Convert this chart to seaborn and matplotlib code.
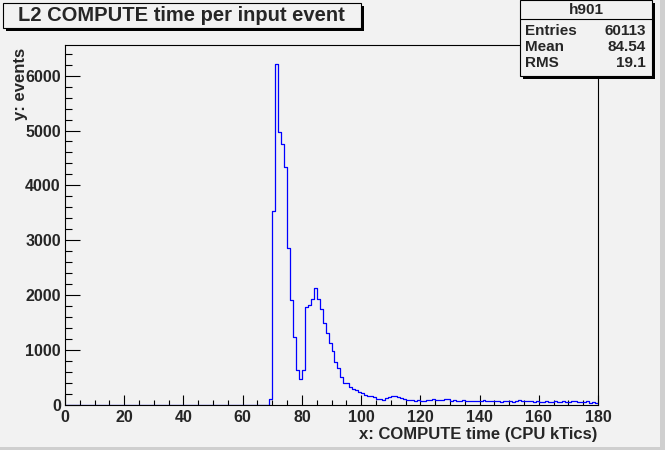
import numpy as np
import pandas as pd
import matplotlib
matplotlib.use('Agg')
import matplotlib.pyplot as plt
from matplotlib.patches import Rectangle
from matplotlib.ticker import MultipleLocator
import seaborn as sns

sns.set_style('ticks')
plt.rcParams['font.family'] = ['Liberation Sans', 'DejaVu Sans']
plt.rcParams['font.weight'] = 'bold'

# histogram: 1 kTic bins from 0 to 180, empty below 69
n_bins = 180
x_range = (0, 180)
first_bin = 69
counts_peak = [110, 3530, 6220, 4970, 4745, 4330, 2865, 1903, 1228, 640,
               474, 640, 1788, 1825, 1920, 2135, 1934, 1752, 1490, 1314,
               1131, 978, 785, 675, 498, 401, 401, 328, 292, 268,
               231, 213, 182, 164, 152, 146]
counts_tail = [110, 110, 91, 128, 146, 158, 164, 134, 128, 110,
               91, 79, 79, 67, 79, 73, 67, 91, 79, 97,
               79, 91, 85, 110, 97, 67, 79, 73, 73, 85,
               61, 61, 61, 67, 61, 73, 79, 73, 61, 61,
               61, 61, 55, 61, 61, 61, 55, 61, 79, 73,
               61, 61, 61, 49, 61, 49, 55, 61, 55, 49,
               61, 49, 49, 67, 49, 49, 61, 61, 49, 49,
               49, 61, 37, 49, 30]

hist_name = 'h901'
stats_labels = ['Entries', 'Mean', 'RMS']
stats_values = ['60113', '84.54', '19.1']
title = 'L2 COMPUTE time per input event'

counts = np.zeros(n_bins)
counts[first_bin:first_bin + len(counts_peak)] = counts_peak
counts[first_bin + len(counts_peak):] = counts_tail
df = pd.DataFrame({'time': np.arange(n_bins) + 0.5, 'events': counts})

W, H = 665, 450
bg = '#f2f2f2'
fig = plt.figure(figsize=(W / 100, H / 100), dpi=100, facecolor=bg)

# canvas bevel on right and bottom
fig.patches.append(Rectangle((660 / W, 0), 5 / W, 1, transform=fig.transFigure,
                             facecolor='#cfcfcf', edgecolor='none'))
fig.patches.append(Rectangle((0, 0), 1, 3 / H, transform=fig.transFigure,
                             facecolor='#cfcfcf', edgecolor='none'))

ax = fig.add_axes([65 / W, 1 - 404.6 / H, 533 / W, 359.6 / H])
ax.set_facecolor(bg)

sns.histplot(data=df, x='time', weights='events', bins=n_bins, binrange=x_range,
             element='step', fill=False, color='#0000ff', linewidth=0.9, ax=ax)

ax.set_xlim(*x_range)
ax.set_ylim(0, 6560)
ax.xaxis.set_major_locator(MultipleLocator(20))
ax.xaxis.set_minor_locator(MultipleLocator(5))
ax.yaxis.set_major_locator(MultipleLocator(1000))
ax.yaxis.set_minor_locator(MultipleLocator(200))
ax.tick_params(which='both', direction='in', top=False, right=False,
               labelsize=11.5, width=0.8, color='black')
ax.tick_params(axis='x', which='major', length=7.5, pad=4)
ax.tick_params(axis='x', which='minor', length=3.8)
ax.tick_params(axis='y', which='major', length=10.5, pad=3)
ax.tick_params(axis='y', which='minor', length=5.3)
for lab in ax.get_xticklabels() + ax.get_yticklabels():
    lab.set_fontweight('bold')
for s in ax.spines.values():
    s.set_color('black')
    s.set_linewidth(0.8)

ax.set_xlabel('')
ax.set_ylabel('')
fig.text(597 / W, 1 - 434 / H, 'x: COMPUTE time (CPU kTics)', ha='right', va='center',
         fontsize=12, fontweight='bold')
fig.text(20 / W, 1 - 48 / H, 'y: events', ha='center', va='top', rotation=90,
         fontsize=12, fontweight='bold')

# title box with shadow
fig.patches.append(Rectangle((6 / W, 1 - 31 / H), 358 / W, 25 / H,
                             transform=fig.transFigure, facecolor='black', edgecolor='none'))
fig.patches.append(Rectangle((3 / W, 1 - 28 / H), 358 / W, 25 / H,
                             transform=fig.transFigure, facecolor=bg, edgecolor='black', lw=0.8))
fig.text(181 / W, 1 - 15.5 / H, title, ha='center', va='center', fontsize=14.5, fontweight='bold')

# stats box with shadow
fig.patches.append(Rectangle((523 / W, 1 - 79 / H), 132 / W, 76 / H,
                             transform=fig.transFigure, facecolor='black', edgecolor='none', zorder=5))
fig.patches.append(Rectangle((520 / W, 1 - 76 / H), 132 / W, 76 / H,
                             transform=fig.transFigure, facecolor=bg, edgecolor='black', lw=0.8, zorder=6))
fig.add_artist(plt.Line2D([520 / W, 652 / W], [1 - 19 / H, 1 - 19 / H],
                          transform=fig.transFigure, color='black', lw=0.8, zorder=7))
fig.text(586 / W, 1 - 10 / H, hist_name, ha='center', va='center', fontsize=11,
         fontweight='bold', zorder=8)
for i, (lab, val) in enumerate(zip(stats_labels, stats_values)):
    y = 1 - (30.7 + 16.3 * i) / H
    fig.text(525 / W, y, lab, ha='left', va='center', fontsize=11, fontweight='bold', zorder=8)
    fig.text(646 / W, y, val, ha='right', va='center', fontsize=11, fontweight='bold', zorder=8)

fig.savefig('out.png', dpi=100, facecolor=bg)
